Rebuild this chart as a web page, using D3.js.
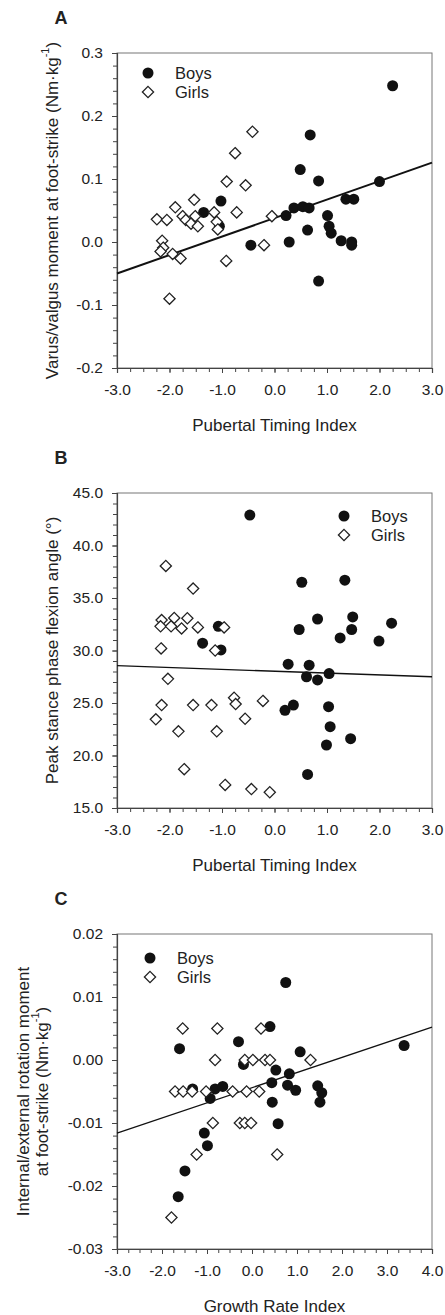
<!DOCTYPE html>
<html>
<head>
<meta charset="utf-8">
<script src="https://cdn.jsdelivr.net/npm/d3@7"></script>
<style>
  body { margin: 0; background: #fff; }
  text { font-family: "Liberation Sans", Arial, sans-serif; fill: #222; }
</style>
</head>
<body>
<script>
// ---- data ----
var xTicksPT = [-3, -2, -1, 0, 1, 2, 3];
var xTicksGR = [-3, -2, -1, 0, 1, 2, 3, 4];
var yTicksA = [-0.2, -0.1, 0.0, 0.1, 0.2, 0.3];
var yTicksB = [15, 20, 25, 30, 35, 40, 45];
var yTicksC = [-0.03, -0.02, -0.01, 0.0, 0.01, 0.02];

// panel A : varus/valgus moment vs pubertal timing
var boysA = [[-1.35,0.047],[-1.02,0.065],[-1.05,0.025],[-0.45,-0.005],[2.25,0.248],[0.68,0.17],
  [0.49,0.115],[0.84,0.097],[2.0,0.096],[0.22,0.042],[0.37,0.054],[0.54,0.056],[0.66,0.054],
  [1.36,0.068],[1.51,0.068],[1.01,0.042],[1.04,0.025],[1.08,0.014],[0.63,0.019],[0.28,0.0],
  [1.27,0.002],[1.47,0.0],[1.47,-0.005],[0.84,-0.062]];
var girlsA = [[-0.42,0.175],[-0.75,0.141],[-0.91,0.096],[-0.55,0.09],[-1.53,0.067],[-1.89,0.055],
  [-2.24,0.036],[-2.05,0.035],[-1.75,0.041],[-1.69,0.035],[-1.59,0.029],[-1.46,0.025],[-1.51,0.041],
  [-1.15,0.047],[-1.1,0.032],[-1.08,0.02],[-0.72,0.047],[-2.14,0.002],[-2.12,-0.009],[-2.17,-0.015],
  [-1.94,-0.019],[-1.79,-0.026],[-0.92,-0.03],[-0.2,-0.005],[-0.05,0.041],[-2.0,-0.09]];
var fitA = [[-3,-0.05],[3,0.126]];

// panel B : peak stance knee flexion vs pubertal timing
var boysB = [[-1.37,30.7],[-1.07,32.3],[-1.02,30.05],[-0.47,42.9],[0.52,36.5],[1.34,36.7],
  [0.82,33.0],[0.47,32.0],[1.49,33.2],[1.47,32.0],[1.25,31.2],[2.23,32.6],[1.99,30.9],
  [0.26,28.7],[0.66,28.6],[0.61,27.5],[0.82,27.2],[1.04,27.8],[0.2,24.3],[0.36,24.8],
  [1.03,24.65],[1.06,22.75],[0.99,21.0],[1.45,21.6],[0.63,18.2]];
var girlsB = [[-2.07,38.05],[-1.55,35.9],[-2.15,32.9],[-2.17,32.3],[-1.91,33.1],[-1.97,32.3],
  [-1.77,32.1],[-1.66,33.07],[-1.46,32.2],[-0.96,32.2],[-2.16,30.2],[-1.13,30.0],[-2.03,27.3],
  [-2.15,24.8],[-2.26,23.45],[-1.83,22.3],[-1.55,24.8],[-1.2,24.8],[-1.1,22.3],[-0.77,25.5],
  [-0.74,24.9],[-0.56,23.5],[-0.22,25.2],[-1.72,18.7],[-0.94,17.2],[-0.44,16.8],[-0.09,16.5]];
var fitB = [[-3,28.55],[3,27.5]];

// panel C : internal/external rotation moment vs growth rate
var boysC = [[-1.61,0.0018],[-0.3,0.0029],[-0.19,-0.0007],[-1.32,-0.0046],[-0.82,-0.0046],
  [-0.65,-0.0042],[-0.93,-0.0061],[-1.06,-0.0116],[-0.99,-0.0136],[-1.49,-0.0176],[-1.64,-0.0217],
  [0.4,0.0053],[0.44,-0.0036],[0.45,-0.0067],[0.75,0.0123],[1.07,0.0013],[3.38,0.0023],
  [0.53,-0.0016],[0.83,-0.0022],[0.79,-0.004],[0.97,-0.0048],[1.46,-0.0041],[1.55,-0.0052],
  [1.51,-0.0067],[0.58,-0.0101]];
var girlsC = [[-1.54,0.005],[-0.77,0.005],[0.2,0.005],[-0.82,0.0],[-0.16,0.0],[0.02,0.0],
  [0.29,0.0],[0.4,0.0],[1.3,0.0],[-1.71,-0.005],[-1.53,-0.005],[-1.33,-0.005],[-1.02,-0.005],
  [-0.43,-0.005],[-0.12,-0.005],[0.16,-0.005],[-0.87,-0.01],[-0.27,-0.01],[-0.16,-0.01],
  [-0.02,-0.01],[-1.23,-0.015],[0.56,-0.015],[-1.79,-0.025]];
var fitC = [[-3,-0.0116],[4,0.0052]];

// ---- layout ----
var svgWidth = 445, svgHeight = 1315;
var left = 117, plotW = 315, plotH = 315;

var svg = d3.select("body").append("svg")
  .attr("width", svgWidth)
  .attr("height", svgHeight);

var panels = [
  { letter: "A", top: 53, boys: boysA, girls: girlsA, fit: fitA, fitWidth: 2,
    xDom: [-3, 3], xTicks: xTicksPT, yDom: [-0.2, 0.3], yTicks: yTicksA, yMinor: 0.02, yFmt: 1,
    xTitle: "Pubertal Timing Index", yTitle: ["Varus/valgus moment at foot-strike (Nm\u00b7kg"], yTitleX: [52],
    legend: [148, 73] },
  { letter: "B", top: 493, boys: boysB, girls: girlsB, fit: fitB, fitWidth: 1.3,
    xDom: [-3, 3], xTicks: xTicksPT, yDom: [15, 45], yTicks: yTicksB, yMinor: 1, yFmt: 1,
    xTitle: "Pubertal Timing Index", yTitle: ["Peak stance phase flexion angle (\u00b0)"], yTitleX: [52],
    legend: [344, 516] },
  { letter: "C", top: 934, boys: boysC, girls: girlsC, fit: fitC, fitWidth: 1.3,
    xDom: [-3, 4], xTicks: xTicksGR, yDom: [-0.03, 0.02], yTicks: yTicksC, yMinor: 0.002, yFmt: 2,
    xTitle: "Growth Rate Index", yTitle: ["Internal/external rotation moment", "at foot-strike (Nm\u00b7kg"], yTitleX: [23, 42],
    legend: [150, 958] }
];

function diamond(r) {
  return "M0," + (-r) + "L" + r + ",0L0," + r + "L" + (-r) + ",0Z";
}

panels.forEach(function (p) {
  var g = svg.append("g").attr("transform", "translate(" + left + "," + p.top + ")");
  var x = d3.scaleLinear().domain(p.xDom).range([0, plotW]);
  var y = d3.scaleLinear().domain(p.yDom).range([plotH, 0]);

  // frame
  g.append("rect").attr("width", plotW).attr("height", plotH)
    .attr("fill", "none").attr("stroke", "#777").attr("stroke-width", 1);

  // minor ticks
  var xMinor = d3.range(p.xDom[0], p.xDom[1] + 0.001, 0.25);
  var yMinor = d3.range(0, Math.round((p.yDom[1] - p.yDom[0]) / p.yMinor) + 1)
    .map(function (i) { return p.yDom[0] + i * p.yMinor; });

  g.append("g").attr("transform", "translate(0," + plotH + ")")
    .call(d3.axisBottom(x).tickValues(xMinor).tickFormat("").tickSize(4))
    .call(function (a) { a.select(".domain").remove(); a.selectAll("line").attr("stroke", "#444"); });
  g.append("g")
    .call(d3.axisLeft(y).tickValues(yMinor).tickFormat("").tickSize(4))
    .call(function (a) { a.select(".domain").remove(); a.selectAll("line").attr("stroke", "#444"); });

  // major axes
  var xa = g.append("g").attr("transform", "translate(0," + plotH + ")")
    .call(d3.axisBottom(x).tickValues(p.xTicks).tickSize(5).tickPadding(11)
      .tickFormat(function (d) { return d.toFixed(1); }));
  var ya = g.append("g")
    .call(d3.axisLeft(y).tickValues(p.yTicks).tickSize(5).tickPadding(9)
      .tickFormat(function (d) { return d.toFixed(p.yFmt); }));
  [xa, ya].forEach(function (a) {
    a.select(".domain").attr("stroke", "#444").attr("stroke-width", 1.2);
    a.selectAll("line").attr("stroke", "#444");
    a.selectAll("text").style("font-size", "15.5px").attr("fill", "#222")
      .style("font-family", "'Liberation Sans', Arial, sans-serif");
  });

  // regression line
  g.append("path")
    .attr("d", d3.line().x(function (d) { return x(d[0]); }).y(function (d) { return y(d[1]); })(p.fit))
    .attr("fill", "none").attr("stroke", "#111").attr("stroke-width", p.fitWidth);

  // boys: filled circles
  g.selectAll(".boy").data(p.boys).enter().append("circle")
    .attr("class", "boy")
    .attr("cx", function (d) { return x(d[0]); })
    .attr("cy", function (d) { return y(d[1]); })
    .attr("r", 5.5)
    .attr("fill", "#111");

  // girls: open diamonds
  g.selectAll(".girl").data(p.girls).enter().append("path")
    .attr("class", "girl")
    .attr("transform", function (d) { return "translate(" + x(d[0]) + "," + y(d[1]) + ")"; })
    .attr("d", diamond(5.6))
    .attr("fill", "#fff").attr("stroke", "#222").attr("stroke-width", 1.3);

  // panel letter
  svg.append("text").attr("x", 61).attr("y", p.top - 35 + 6)
    .style("font-size", "18px").style("font-weight", "bold").attr("text-anchor", "middle")
    .text(p.letter);

  // x title
  g.append("text").attr("x", plotW / 2).attr("y", plotH + 57)
    .attr("text-anchor", "middle").attr("dominant-baseline", "central")
    .style("font-size", "17px").text(p.xTitle);

  // y title (rotated)
  p.yTitle.forEach(function (line, i) {
    var t = svg.append("text")
      .attr("transform", "translate(" + p.yTitleX[i] + "," + (p.top + plotH / 2) + ") rotate(-90)")
      .attr("text-anchor", "middle").attr("dominant-baseline", "central")
      .style("font-size", "17px");
    t.append("tspan").text(line);
    if (line.indexOf("kg") >= 0) {
      t.append("tspan").attr("dy", -7).style("font-size", "11px").text("-1");
      t.append("tspan").attr("dy", 7).text(")");
    }
  });

  // legend
  var lg = svg.append("g").attr("transform", "translate(" + p.legend[0] + "," + p.legend[1] + ")");
  lg.append("circle").attr("r", 5.5).attr("fill", "#111");
  lg.append("path").attr("transform", "translate(0,19)").attr("d", diamond(5.6))
    .attr("fill", "#fff").attr("stroke", "#222").attr("stroke-width", 1.3);
  lg.append("text").attr("x", 27).attr("y", 0).attr("dominant-baseline", "central")
    .style("font-size", "16.5px").text("Boys");
  lg.append("text").attr("x", 27).attr("y", 19).attr("dominant-baseline", "central")
    .style("font-size", "16.5px").text("Girls");
});
</script>
</body>
</html>
